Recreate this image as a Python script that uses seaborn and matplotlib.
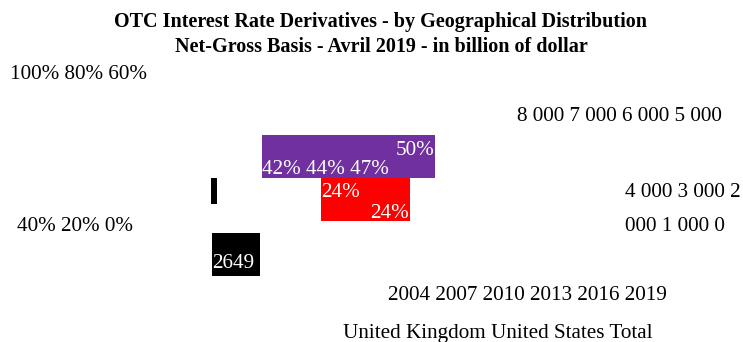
import matplotlib
matplotlib.use("Agg")
import matplotlib.pyplot as plt
import seaborn as sns

# ---- data (as rendered) ----
title_lines = ["OTC Interest Rate Derivatives - by Geographical Distribution",
               "Net-Gross Basis - Avril 2019 - in billion of dollar"]
pct_ticks_top = ["100%", "80%", "60%"]
pct_ticks_bottom = ["40%", "20%", "0%"]
value_ticks_line1 = ["8 000", "7 000", "6 000", "5 000"]
value_ticks_line2 = ["4 000", "3 000", "2"]
value_ticks_line3 = ["000", "1 000", "0"]
years = ["2004", "2007", "2010", "2013", "2016", "2019"]
series = ["United Kingdom", "United States", "Total"]
uk_labels_top = ["50%"]
uk_labels = ["42%", "44%", "47%"]
us_labels_top = ["24%"]
us_labels = ["24%"]
total_labels = [2649]
colors = {"United Kingdom": "#7030a0", "United States": "#ff0000", "Total": "#000000"}

sns.set_theme(style="white")
plt.rcParams["font.family"] = ["Liberation Serif", "DejaVu Serif"]
plt.rcParams["text.color"] = "black"

W, H = 743, 342
fig = plt.figure(figsize=(W / 100, H / 100), dpi=100)
ax = fig.add_axes([0, 0, 1, 1])
ax.set_xlim(0, W)
ax.set_ylim(H, 0)
ax.axis("off")

fs = 15.2
# title
ax.text(381, 27, title_lines[0], ha="center", va="baseline", fontsize=14.5, fontweight="bold", color="black")
ax.text(381, 52, title_lines[1], ha="center", va="baseline", fontsize=14.5, fontweight="bold", color="black")

# axis-like text blocks
ax.text(10, 79, " ".join(pct_ticks_top), ha="left", va="baseline", fontsize=fs, color="black")
ax.text(17, 231, " ".join(pct_ticks_bottom), ha="left", va="baseline", fontsize=fs, color="black")
ax.text(517, 121, " ".join(value_ticks_line1), ha="left", va="baseline", fontsize=fs, color="black")
ax.text(625, 197, " ".join(value_ticks_line2), ha="left", va="baseline", fontsize=fs, color="black")
ax.text(625, 231, " ".join(value_ticks_line3), ha="left", va="baseline", fontsize=fs, color="black")
ax.text(388, 300, " ".join(years), ha="left", va="baseline", fontsize=fs, color="black")
ax.text(343, 338, " ".join(series), ha="left", va="baseline", fontsize=fs, color="black")

# boxes (bars)
ax.bar(262, 43, width=173, bottom=135, align="edge", color=colors["United Kingdom"], linewidth=0)
ax.bar(321, 43, width=89, bottom=178, align="edge", color=colors["United States"], linewidth=0)
ax.bar(211, 26, width=6, bottom=178, align="edge", color=colors["Total"], linewidth=0)
ax.bar(212, 43, width=48, bottom=233, align="edge", color=colors["Total"], linewidth=0)

# labels in boxes
ax.text(434, 155, uk_labels_top[0], ha="right", va="baseline", fontsize=fs, color="white")
ax.text(262, 174, " ".join(uk_labels), ha="left", va="baseline", fontsize=fs, color="white")
ax.text(321, 197, us_labels_top[0], ha="left", va="baseline", fontsize=fs, color="white")
ax.text(409, 218, us_labels[0], ha="right", va="baseline", fontsize=fs, color="white")
ax.text(212, 268, str(total_labels[0]), ha="left", va="baseline", fontsize=fs, color="white")

fig.savefig("out.png", dpi=100)
